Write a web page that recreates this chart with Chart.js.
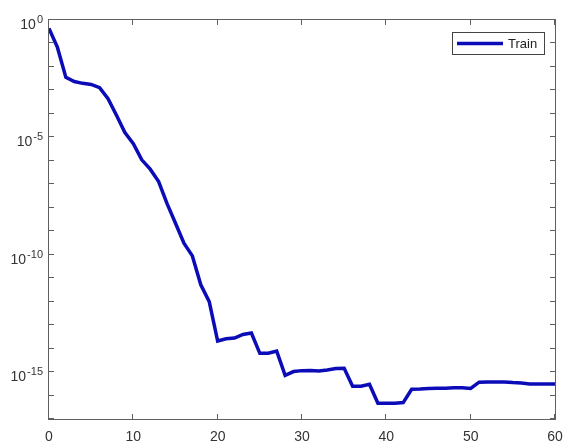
<!DOCTYPE html>
<html>
<head>
<meta charset="utf-8">
<script src="https://cdn.jsdelivr.net/npm/chart.js@4/dist/chart.umd.min.js"></script>
<style>
  html, body { margin: 0; padding: 0; background: #fff; }
  #wrap { width: 567px; height: 443px; }
</style>
</head>
<body>
<div id="wrap"><canvas id="chart"></canvas></div>
<script>
// epoch index and training loss
const epochs = [0, 1, 2, 3, 4, 5, 6, 7, 8, 9, 10, 11, 12, 13, 14, 15, 16, 17, 18, 19, 20,
  21, 22, 23, 24, 25, 26, 27, 28, 29, 30, 31, 32, 33, 34, 35, 36, 37, 38, 39, 40,
  41, 42, 43, 44, 45, 46, 47, 48, 49, 50, 51, 52, 53, 54, 55, 56, 57, 58, 59, 60];
const trainLoss = [
  4.4e-1, 6.8e-2, 3.6e-3, 2.4e-3, 2.0e-3, 1.8e-3, 1.3e-3, 4.4e-4, 8.7e-5, 1.6e-5,
  5.4e-6, 1.1e-6, 4.4e-7, 1.3e-7, 1.5e-8, 2.2e-9, 3.1e-10, 8.9e-11, 5.2e-12, 1.0e-12,
  2.1e-14, 2.6e-14, 2.8e-14, 4.0e-14, 4.6e-14, 6.3e-15, 6.3e-15, 7.8e-15, 7.2e-16, 1.05e-15,
  1.15e-15, 1.17e-15, 1.1e-15, 1.23e-15, 1.41e-15, 1.45e-15, 2.5e-16, 2.5e-16, 3.0e-16, 4.7e-17,
  4.7e-17, 4.7e-17, 5.0e-17, 1.86e-16, 1.9e-16, 2.0e-16, 2.04e-16, 2.04e-16, 2.14e-16, 2.14e-16,
  2.0e-16, 3.7e-16, 3.8e-16, 3.8e-16, 3.8e-16, 3.55e-16, 3.4e-16, 3.1e-16, 3.1e-16, 3.1e-16,
  3.1e-16];

const xTicks = [0, 10, 20, 30, 40, 50, 60];
const yTickExps = [0, -1, -2, -3, -4, -5, -6, -7, -8, -9, -10, -11, -12, -13, -14, -15, -16, -17];
const yLabelExps = [0, -5, -10, -15];

const axisColor = '#5f5f5f';
const textColor = '#333333';
const lineColor = '#0b0bb8';

// MATLAB-like box, inward ticks on all sides, superscript labels, inset legend
const matlabAxes = {
  id: 'matlabAxes',
  afterDraw(chart) {
    const { ctx, chartArea: a, scales: { x, y } } = chart;
    const tl = 5;
    ctx.save();
    ctx.strokeStyle = axisColor;
    ctx.lineWidth = 1;
    ctx.strokeRect(a.left - 0.5, a.top - 0.5, a.right - a.left + 1, a.bottom - a.top + 1);

    ctx.beginPath();
    xTicks.forEach(v => {
      const px = Math.round(x.getPixelForValue(v)) - 0.5;
      ctx.moveTo(px, a.bottom); ctx.lineTo(px, a.bottom - tl);
      ctx.moveTo(px, a.top); ctx.lineTo(px, a.top + tl);
    });
    yTickExps.forEach(e => {
      const py = Math.round(y.getPixelForValue(Math.pow(10, e))) - 0.5;
      ctx.moveTo(a.left, py); ctx.lineTo(a.left + tl, py);
      ctx.moveTo(a.right, py); ctx.lineTo(a.right - tl, py);
    });
    ctx.stroke();

    ctx.fillStyle = textColor;
    ctx.textBaseline = 'alphabetic';
    ctx.font = '14px "Liberation Sans", Arial, sans-serif';
    ctx.textAlign = 'center';
    xTicks.forEach(v => {
      ctx.fillText(String(v), x.getPixelForValue(v), 441);
    });

    yLabelExps.forEach(e => {
      const py = y.getPixelForValue(Math.pow(10, e));
      const exp = e === 0 ? '0' : '-' + Math.abs(e);
      ctx.font = '11px "Liberation Sans", Arial, sans-serif';
      ctx.textAlign = 'right';
      const right = a.left - 6;
      ctx.fillText(exp, right, py + 3);
      const ew = ctx.measureText(exp).width;
      ctx.font = '14px "Liberation Sans", Arial, sans-serif';
      ctx.fillText('10', right - ew - 1, py + 9);
    });

    // legend
    const ds = chart.data.datasets[0];
    const lx = 452, ly = 32, lw = 92, lh = 22;
    ctx.fillStyle = '#ffffff';
    ctx.fillRect(lx, ly, lw, lh);
    ctx.strokeStyle = '#444444';
    ctx.strokeRect(lx + 0.5, ly + 0.5, lw, lh);
    ctx.strokeStyle = ds.borderColor;
    ctx.lineWidth = ds.borderWidth;
    ctx.beginPath();
    ctx.moveTo(lx + 5, ly + 11.5); ctx.lineTo(lx + 51, ly + 11.5);
    ctx.stroke();
    ctx.fillStyle = '#222222';
    ctx.font = '13px "Liberation Sans", Arial, sans-serif';
    ctx.textAlign = 'left';
    ctx.textBaseline = 'middle';
    ctx.fillText(ds.label, lx + 56, ly + 12);
    ctx.restore();
  }
};

new Chart(document.getElementById('chart'), {
  type: 'line',
  data: {
    datasets: [{
      label: 'Train',
      data: epochs.map((e, i) => ({ x: e, y: trainLoss[i] })),
      borderColor: lineColor,
      borderWidth: 3.5,
      pointRadius: 0,
      tension: 0,
      fill: false
    }]
  },
  options: {
    responsive: true,
    maintainAspectRatio: false,
    animation: false,
    layout: { padding: { top: 20, right: 12, left: 0, bottom: 0 } },
    plugins: { legend: { display: false }, tooltip: { enabled: false } },
    scales: {
      x: {
        type: 'linear',
        min: 0,
        max: 60,
        grid: { display: false },
        border: { display: false },
        ticks: { display: false, stepSize: 10 },
        afterFit(scale) { scale.height = 24; }
      },
      y: {
        type: 'logarithmic',
        min: 1e-17,
        max: 1,
        grid: { display: false },
        border: { display: false },
        ticks: { display: false },
        afterFit(scale) { scale.width = 49; }
      }
    }
  },
  plugins: [matlabAxes]
});
</script>
</body>
</html>
